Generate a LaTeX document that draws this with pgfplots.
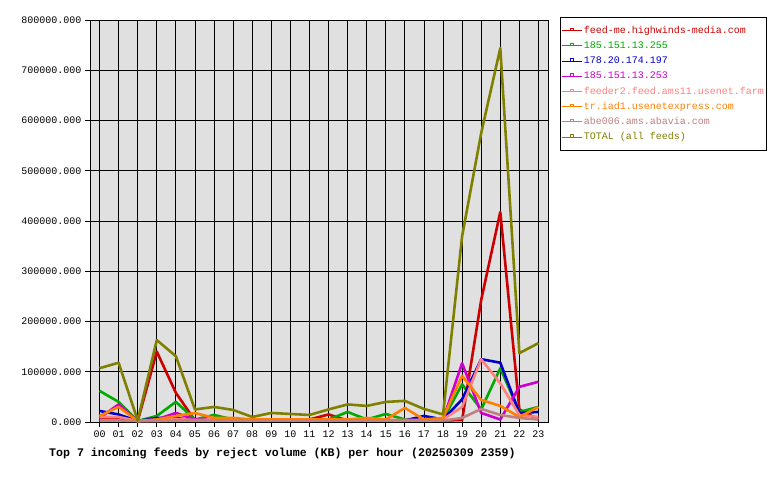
\documentclass[border=0pt]{standalone}
\usepackage{fontspec}
\setmainfont{Liberation Mono}
\setmonofont{Liberation Mono}
\usepackage{pgfplots}
\usepackage{pgfplotstable}
\pgfplotsset{compat=1.18}
\definecolor{cRed}{HTML}{CC0000}
\definecolor{cGreen}{HTML}{00AA00}
\definecolor{cBlue}{HTML}{0000CC}
\definecolor{cMag}{HTML}{CC00CC}
\definecolor{cPink}{HTML}{FF8080}
\definecolor{cOrange}{HTML}{FF8000}
\definecolor{cRosy}{HTML}{C08080}
\definecolor{cOlive}{HTML}{808000}
\definecolor{bgGray}{HTML}{E0E0E0}
\pgfplotstableread{
h red green blue mag pink orange rosy total
0 5000 62000 22000 8000 10000 12000 3000 107000
1 5000 40000 15000 35000 10000 30000 3000 118000
2 2000 2000 2000 2000 2000 2000 2000 3000
3 140000 12000 8000 5000 3000 5000 2000 163000
4 58000 40000 8000 18000 6000 12000 3000 131000
5 3000 5000 3000 5000 4000 18000 3000 25000
6 3000 14000 3000 4000 4000 8000 3000 30000
7 3000 5000 3000 4000 4000 8000 3000 24000
8 3000 3000 3000 3000 3000 5000 3000 10000
9 3000 3000 3000 3000 4000 5000 3000 18000
10 3000 3000 3000 3000 4000 5000 3000 16000
11 5000 3000 3000 3000 4000 5000 3000 14000
12 15000 5000 3000 3000 4000 5000 3000 25000
13 3000 20000 3000 3000 4000 5000 3000 35000
14 3000 5000 3000 3000 4000 8000 3000 32000
15 3000 16000 3000 3000 4000 5000 3000 40000
16 3000 5000 3000 3000 4000 28000 3000 42000
17 3000 3000 12000 3000 4000 5000 3000 26000
18 3000 5000 5000 5000 5000 8000 3000 15000
19 4000 75000 45000 117000 30000 92000 8000 370000
20 243000 25000 125000 18000 125000 44000 26000 575000
21 418000 107000 118000 5000 77000 32000 14000 744000
22 25000 20000 18000 70000 14000 10000 8000 137000
23 5000 30000 20000 80000 10000 30000 5000 157000
}\datatable
\begin{document}
\begin{tikzpicture}
\path[use as bounding box] (0pt,0pt) rectangle (780pt,480pt);
\begin{axis}[
  at={(90pt,58pt)}, anchor=south west,
  scale only axis, width=458pt, height=402pt,
  xmin=-0.5, xmax=23.5, ymin=0, ymax=800000,
  xtick={0,...,23},
  xticklabels={00,01,02,03,04,05,06,07,08,09,10,11,12,13,14,15,16,17,18,19,20,21,22,23},
  ytick={0,100000,...,800000},
  scaled y ticks=false,
  yticklabel style={/pgf/number format/.cd, fixed, fixed zerofill, precision=3, 1000 sep={}, assume math mode=true},
  tick label style={font=\fontsize{10}{12}\selectfont, black},
  xtick pos=bottom, ytick pos=left,
  tick align=outside, major tick length=5pt,
  tick style={black, line width=0.8pt},
  axis line style={black, line width=0.8pt},
  grid=major, major grid style={black, line width=0.8pt},
  axis background/.style={fill=bgGray},
  every axis plot/.append style={line width=2.6pt, no markers, line join=round},
  legend image code/.code={
    \draw[#1, line width=1pt] (0pt,0pt) -- (20pt,0pt);
    \draw[#1, line width=0.6pt] (8.5pt,0pt) -- (8.5pt,2.5pt) -- (11.5pt,2.5pt) -- (11.5pt,0pt);
  },
  legend style={at={(1.0262,1.0075)}, anchor=north west, draw=black, line width=0.8pt, fill=white,
    font=\fontsize{10}{12}\selectfont, cells={anchor=west},
    nodes={inner sep=1.5pt, text height=7.5pt, text depth=2pt},
    row sep=2.7pt, inner xsep=1pt, inner ysep=7pt},
]
\addplot[cRed] table[x=h,y=red]{\datatable};
\addlegendentry{\textcolor{cRed}{feed-me.highwinds-media.com}}
\addplot[cGreen] table[x=h,y=green]{\datatable};
\addlegendentry{\textcolor{cGreen}{185.151.13.255}}
\addplot[cBlue] table[x=h,y=blue]{\datatable};
\addlegendentry{\textcolor{cBlue}{178.20.174.197}}
\addplot[cMag] table[x=h,y=mag]{\datatable};
\addlegendentry{\textcolor{cMag}{185.151.13.253}}
\addplot[cPink] table[x=h,y=pink]{\datatable};
\addlegendentry{\textcolor{cPink}{feeder2.feed.ams11.usenet.farm}}
\addplot[cOrange] table[x=h,y=orange]{\datatable};
\addlegendentry{\textcolor{cOrange}{tr.iad1.usenetexpress.com}}
\addplot[cRosy] table[x=h,y=rosy]{\datatable};
\addlegendentry{\textcolor{cRosy}{abe006.ams.abavia.com}}
\addplot[cOlive] table[x=h,y=total]{\datatable};
\addlegendentry{\textcolor{cOlive}{TOTAL (all feeds)}}
\end{axis}
\node[anchor=base west, font=\bfseries\fontsize{11.6}{13}\selectfont, inner sep=0pt] at (49pt,24pt)
  {Top 7 incoming feeds by reject volume (KB) per hour (20250309 2359)};
\end{tikzpicture}
\end{document}
